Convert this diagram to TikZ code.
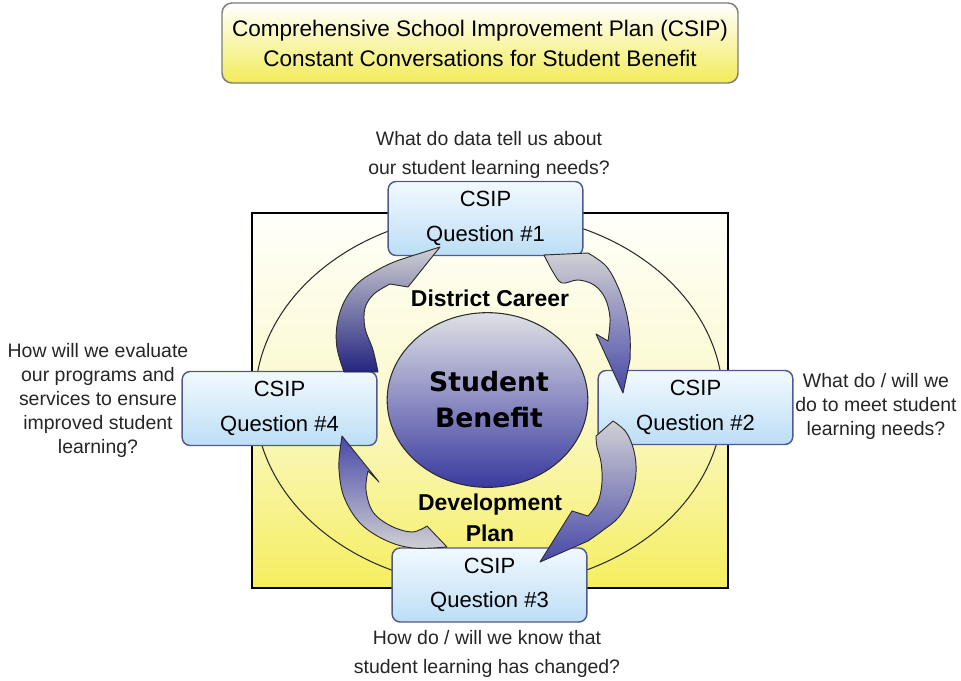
\documentclass[tikz,border=0pt]{standalone}
\usepackage{fontspec}
\setmainfont{Liberation Sans}
\newfontfamily\heavyfont{DejaVu Sans}
\usetikzlibrary{calc,shapes.geometric}

\definecolor{boxline}{RGB}{80,90,140}
\definecolor{boxtop}{RGB}{242,249,254}
\definecolor{boxbottom}{RGB}{188,222,246}
\definecolor{titleline}{RGB}{125,125,125}
\definecolor{titlebottom}{RGB}{242,236,88}
\definecolor{paneltop}{RGB}{255,255,250}
\definecolor{panelmid}{RGB}{251,249,205}
\definecolor{panelbottom}{RGB}{245,238,95}
\definecolor{orbtop}{RGB}{224,224,230}
\definecolor{orbmid}{RGB}{150,150,198}
\definecolor{orbbottom}{RGB}{58,58,160}
\definecolor{arrowgray}{RGB}{208,208,212}
\definecolor{arrownavy}{RGB}{72,72,168}
\definecolor{arrowdark}{RGB}{36,36,128}
\definecolor{outline}{RGB}{45,45,45}

\begin{document}
\begin{tikzpicture}[x=0.75pt,y=-0.75pt,
  titlebox/.style={draw=titleline, line width=1.1pt, rounded corners=7.5pt,
    top color=white, bottom color=titlebottom, minimum width=387pt,
    minimum height=60pt, inner sep=0pt, align=center,
    font=\fontsize{16.9}{22.5}\selectfont},
  qbox/.style={draw=boxline, line width=1.1pt, rounded corners=6pt,
    top color=boxtop, bottom color=boxbottom, minimum width=146pt,
    minimum height=55.5pt, inner sep=0pt, align=center,
    font=\fontsize{16.5}{26}\selectfont},
  qtext/.style={inner sep=0pt, align=center, text=black!85},
  boldlabel/.style={inner sep=0pt, align=center,
    font=\fontsize{17.2}{23.5}\selectfont\bfseries},
  cyclearrow/.style={draw=outline, line width=0.7pt, line join=round}
]
% page frame
\useasboundingbox[fill=white] (0,0) rectangle (961,681);

% title
\node[titlebox] (title) at (480,43)
  {Comprehensive School Improvement Plan (CSIP)\\Constant Conversations for Student Benefit};

% background panel and ring
\path[draw=black, line width=0.8pt, top color=paneltop, bottom color=panelbottom,
      middle color=panelmid] (252,213) rectangle (728,588);
\draw[outline, line width=0.8pt] (489,400) ellipse [x radius=234, y radius=187];

% centre orb
\node[draw=outline, line width=0.8pt, ellipse, minimum width=150.5pt,
      minimum height=131pt, inner sep=0pt, top color=orbtop, middle color=orbmid,
      bottom color=orbbottom] (orb) at (487.5,400) {};

% question boxes
\node[qbox] (q1) at (485.5,218.5) {CSIP\\Question \#1};
\node[qbox] (q2) at (695.5,407.5) {CSIP\\Question \#2};
\node[qbox] (q3) at (489.5,585) {CSIP\\Question \#3};
\node[qbox] (q4) at (279.5,408.5) {CSIP\\Question \#4};

% curved arrows between the questions
% Q1 -> Q2
\path[cyclearrow, top color=arrowgray, bottom color=arrownavy]
  plot[smooth, tension=0.6] coordinates {(588,253) (606,266) (618,287) (626,311) (630,336) (630,360)}
  -- (623,393) -- (596,334)
  -- plot[smooth, tension=0.6] coordinates {(608,341) (610,318) (605,298) (594,285) (578,280) (562,283) (553,272) (544,255)}
  -- cycle;

% Q2 -> Q3
\path[cyclearrow, top color=arrowgray, bottom color=arrownavy]
  plot[smooth, tension=0.6] coordinates {(613,421) (626,432) (634,451) (636,473) (631,496) (619,517) (602,531) (588,541)}
  -- (540,562) -- (572,511)
  -- plot[smooth, tension=0.6] coordinates {(588,516) (598,502) (602,482) (601,462) (597,447) (596,436)}
  -- cycle;

% Q3 -> Q4
\path[cyclearrow, top color=arrownavy, bottom color=arrowgray]
  plot[smooth, tension=0.6] coordinates {(447,547) (413,548) (385,540) (360,523) (344,497) (339,470) (340,450)}
  -- (342,436) -- (379,482)
  -- plot[smooth, tension=0.6] coordinates {(368,471) (366,490) (373,512) (391,526) (412,532) (427,526)}
  -- cycle;

% Q4 -> Q1
\path[cyclearrow, top color=arrowgray, middle color=arrowdark, bottom color=arrowdark]
  plot[smooth, tension=0.6] coordinates {(378,372) (373,350) (365,328) (365,308) (374,294) (390,284)}
  -- (408,287) -- (440,247)
  -- plot[smooth, tension=0.6] coordinates {(418,254) (394,262) (374,272) (357,284) (344,302) (337,325) (337,348) (344,372)}
  -- cycle;

% labels inside the ring
\node[boldlabel] (career) at (490,298) {District Career};
\node[boldlabel] (devplan) at (490,518) {Development\\Plan};
\node[inner sep=0pt, align=center, font=\heavyfont\bfseries\fontsize{20}{27}\selectfont]
  (benefit) at (489,400) {Student\\Benefit};

% the four guiding questions
\node[qtext, font=\fontsize{14.6}{21.5}\selectfont] (ask1) at (489,155)
  {What do data tell us about\\our student learning needs?};
\node[qtext, font=\fontsize{14.6}{18}\selectfont] (ask2) at (876,406)
  {What do / will we\\do to meet student\\learning needs?};
\node[qtext, font=\fontsize{14.6}{21.5}\selectfont] (ask3) at (487,654)
  {How do / will we know that\\student learning has changed?};
\node[qtext, font=\fontsize{14.6}{18}\selectfont] (ask4) at (98,400)
  {How will we evaluate\\our programs and\\services to ensure\\improved student\\learning?};
\end{tikzpicture}
\end{document}
